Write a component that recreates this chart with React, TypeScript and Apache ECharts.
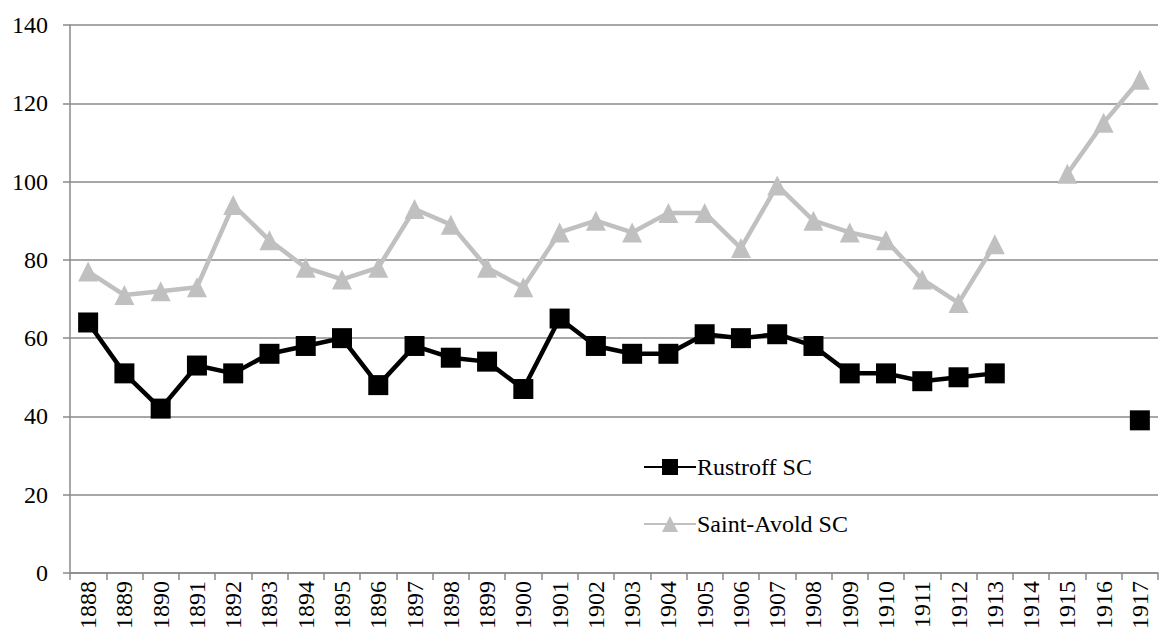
import React, { useEffect, useRef } from "react";
import * as echarts from "echarts";

const years = [
  "1888", "1889", "1890", "1891", "1892", "1893", "1894", "1895", "1896", "1897",
  "1898", "1899", "1900", "1901", "1902", "1903", "1904", "1905", "1906", "1907",
  "1908", "1909", "1910", "1911", "1912", "1913", "1914", "1915", "1916", "1917",
];

const rustroff: (number | null)[] = [
  64, 51, 42, 53, 51, 56, 58, 60, 48, 58,
  55, 54, 47, 65, 58, 56, 56, 61, 60, 61,
  58, 51, 51, 49, 50, 51, null, null, null, 39,
];

const saintAvold: (number | null)[] = [
  77, 71, 72, 73, 94, 85, 78, 75, 78, 93,
  89, 78, 73, 87, 90, 87, 92, 92, 83, 99,
  90, 87, 85, 75, 69, 84, null, 102, 115, 126,
];

const seriesNames = ["Rustroff SC", "Saint-Avold SC"];

export default function App() {
  const ref = useRef<HTMLDivElement>(null);
  useEffect(() => {
    if (!ref.current) return;
    const chart = echarts.init(ref.current, null, { renderer: "svg" });
    const font = "Liberation Serif";
    const gridColor = "#8a8a8a";
    chart.setOption({
      animation: false,
      textStyle: { fontFamily: font },
      grid: { left: 70, right: 2, top: 25, bottom: 69, containLabel: false },
      legend: {
        orient: "vertical",
        left: 638,
        top: 450,
        itemWidth: 52,
        itemHeight: 20,
        itemGap: 33,
        textStyle: { fontFamily: font, fontSize: 24, color: "#000", padding: [0, 0, 0, -4] },
        data: seriesNames,
      },
      xAxis: {
        type: "category",
        data: years,
        boundaryGap: true,
        axisLine: { show: true, lineStyle: { color: gridColor, width: 1.5 } },
        axisTick: { show: true, length: 7, lineStyle: { color: gridColor, width: 1.5 } },
        axisLabel: {
          rotate: 90,
          interval: 0,
          fontFamily: font,
          fontSize: 24,
          color: "#000",
          margin: 8,
        },
      },
      yAxis: {
        type: "value",
        min: 0,
        max: 140,
        interval: 20,
        axisLine: { show: true, lineStyle: { color: gridColor, width: 1.5 } },
        axisTick: { show: true, length: 7, lineStyle: { color: gridColor, width: 1.5 } },
        splitLine: { show: true, lineStyle: { color: gridColor, width: 1.5 } },
        axisLabel: {
          fontFamily: font,
          fontSize: 24,
          color: "#000",
          margin: 22,
        },
      },
      series: [
        {
          name: seriesNames[0],
          type: "line",
          data: rustroff,
          connectNulls: false,
          symbol: "rect",
          symbolSize: 20,
          lineStyle: { color: "#000", width: 4.5 },
          itemStyle: { color: "#000" },
          z: 3,
        },
        {
          name: seriesNames[1],
          type: "line",
          data: saintAvold,
          connectNulls: false,
          symbol: "triangle",
          symbolSize: 20,
          lineStyle: { color: "#c0c0c0", width: 4.5 },
          itemStyle: { color: "#c0c0c0" },
          z: 2,
        },
      ],
    });
    return () => chart.dispose();
  }, []);
  return (
    <div
      ref={ref}
      style={{ position: "fixed", left: 0, top: 0, width: 1160, height: 642, background: "#fff" }}
    />
  );
}
